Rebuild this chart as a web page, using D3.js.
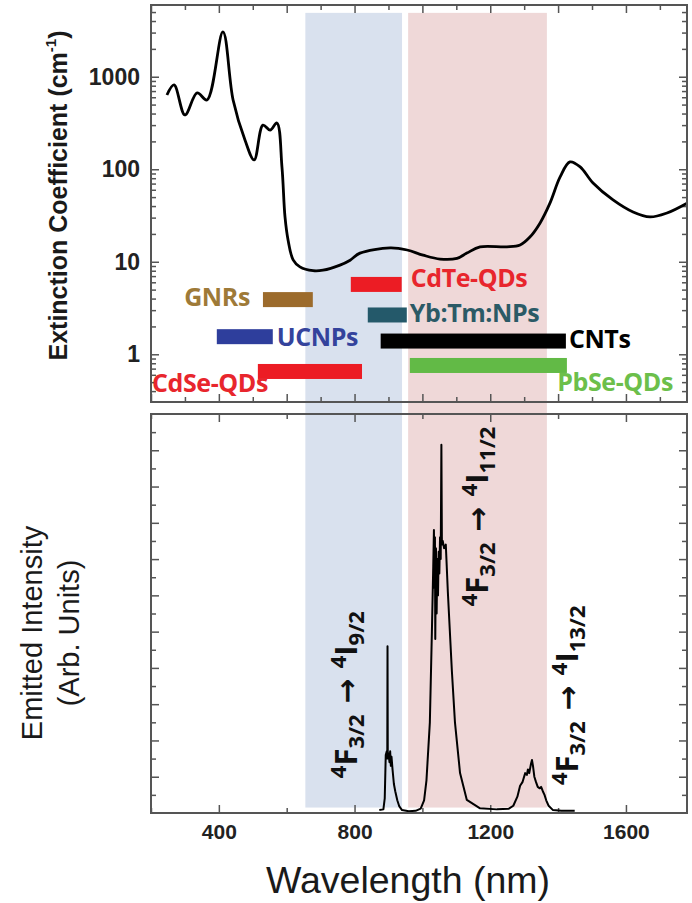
<!DOCTYPE html>
<html><head><meta charset="utf-8">
<script src="https://cdn.jsdelivr.net/npm/d3@7"></script>
<style>body{margin:0;background:#fff}svg{display:block}</style>
</head><body>
<svg id="chart" width="692" height="903"></svg>
<script>
// ---------------- DATA ----------------
// Extinction spectrum (top panel, log scale)
const absWavelength = [247,268,300,336,365,412,442,477,504,530,551,571,586,595,604,619,639,678,707,757,787,816,905,955,1002,1052,1102,1131,1170,1249,1288,1317,1347,1376,1406,1435,1465,1503,1562,1621,1671,1721,1780];
const absCoefficient = [635,815,386,668,561,3050,561,207,126,300,265,316,106,30.5,17.2,10.5,8.8,8.0,8.1,9.2,10.4,12.4,14.1,13.4,11.8,10.7,10.9,12.4,14.5,14.5,15.2,18.5,26.3,43,82.6,120,106,71,46.6,34.5,30.5,33.7,43];

// Emission spectrum (bottom panel, arbitrary units)
const emWavelength = [873,885,889,892,895,896.5,897.2,898,900,903,905,907,909,912,916,920,926,932,940,960,980,995,1005,1012,1022,1028,1032,1034,1036,1037,1038,1040,1042,1044,1046,1048,1050,1052,1054,1056,1057.5,1060,1064,1069,1075,1087,1096,1111,1131,1170,1220,1255,1268,1280,1288,1295,1303,1308,1311,1315,1320,1323,1326,1330,1335,1340,1346,1350,1355,1360,1365,1372,1385,1410,1449];
const emIntensity = [0.08,0.1,0.4,1.6,1.7,1.5,4.6,1.5,1.65,1.4,1.7,1.3,1.55,1.2,0.8,0.6,0.35,0.18,0.08,0.05,0.06,0.12,0.35,0.9,2.5,5.0,6.8,7.8,6.2,7.6,4.8,7.3,5.5,7.0,6.0,7.2,6.6,7.6,7.0,10.15,7.4,7.5,7.3,7.4,6.1,3.9,2.5,1.1,0.36,0.13,0.1,0.12,0.2,0.45,0.75,0.85,1.1,1.05,1.2,1.1,1.35,1.46,1.3,1.0,0.85,0.72,0.68,0.72,0.6,0.5,0.35,0.2,0.08,0.06,0.06];

// Biological windows (shaded)
const windowNames = ["NIR-I", "NIR-II"];
const windowStart = [655, 958];
const windowEnd = [940, 1367];

// Probe ranges (bars)
const probeNames = ["GNRs", "UCNPs", "CdSe-QDs", "CdTe-QDs", "Yb:Tm:NPs", "CNTs", "PbSe-QDs"];
const probeStart = [530, 394, 515, 789, 839, 877, 963];
const probeEnd   = [677, 559, 822, 939, 954, 1423, 1426];
const probeLevel = [3.9, 1.55, 0.652, 5.69, 2.66, 1.39, 0.757];

// Axis ticks
const xTickLabels = [400, 800, 1200, 1600];
const yTickLabels = [1, 10, 100, 1000];

// Nd3+ transitions (bottom panel annotations)
const transitionUpper = ["3/2", "3/2", "3/2"];
const transitionLower = ["9/2", "11/2", "13/2"];
const transitionWavelength = [807, 1193, 1459];
const transitionStartLevel = [0.96, 5.7, 0.77];

// ---------------- STYLE / LAYOUT ----------------
const W = 692, H = 903;
const frameColor = "#555";
const windowColor = ["#d9e1ee", "#efd8d8"];
const probeColor = ["#9c6b2c", "#2e3e9c", "#ec1c24", "#ec1c24", "#24596a", "#000000", "#62ba46"];
const labelColor = ["#9e7a38", "#34439c", "#e8262d", "#e8262d", "#2b5a66", "#000000", "#6cbf4b"];
// label placement relative to bar: side, dx, dy (pixels)
const labelPlace = [
  {anchor: "end",   ref: "start", dx: -13, dy: 6},
  {anchor: "start", ref: "end",   dx: 4,   dy: 9},
  {anchor: "start", ref: "frame", dx: 1,   dy: 21},
  {anchor: "start", ref: "end",   dx: 9,   dy: 3},
  {anchor: "start", ref: "end",   dx: 3,   dy: 7},
  {anchor: "start", ref: "end",   dx: 3,   dy: 7},
  {anchor: "end",   ref: "end",   dx: 106, dy: 26}
];

const x = d3.scaleLinear().domain([200, 1780]).range([151, 687]);
const yTop = d3.scaleLog().domain([0.305, 5960]).range([402, 5]);
const yBot = d3.scaleLinear().domain([0, 11]).range([813, 414]);

const svg = d3.select("#chart");
svg.append("rect").attr("width", W).attr("height", H).attr("fill", "#fff");

// shaded windows spanning both panels
svg.append("g").selectAll("rect")
  .data(windowNames)
  .join("rect")
  .attr("x", (d, i) => x(windowStart[i]))
  .attr("width", (d, i) => x(windowEnd[i]) - x(windowStart[i]))
  .attr("y", yTop(4900))
  .attr("height", yBot(0.15) - yTop(4900))
  .attr("fill", (d, i) => windowColor[i]);

// ---------- axes helper ----------
function styleAxis(g) {
  g.select(".domain").remove();
  g.selectAll(".tick line").attr("stroke", frameColor).attr("stroke-width", 1.5);
  return g;
}

// ---------- TOP PANEL ----------
const topG = svg.append("g");
const xMajTop = d3.range(200, 1781, 200), xMinTop = d3.range(300, 1781, 200);
[[402, d3.axisBottom], [5, d3.axisTop]].forEach(([yy, ax]) => {
  topG.append("g").attr("transform", `translate(0,${yy})`)
    .call(ax(x).tickValues(xMajTop).tickSize(-8).tickFormat("")).call(styleAxis);
  topG.append("g").attr("transform", `translate(0,${yy})`)
    .call(ax(x).tickValues(xMinTop).tickSize(-5).tickFormat("")).call(styleAxis);
});
const logMinor = [];
[0.1, 1, 10, 100, 1000].forEach(dec => { for (let k = 2; k <= 9; k++) { const v = dec * k; if (v > 0.305 && v < 5960) logMinor.push(v); } });
topG.append("g").attr("transform", `translate(${x.range()[0]},0)`)
  .call(d3.axisLeft(yTop).tickValues(yTickLabels).tickSize(-8).tickPadding(11).tickFormat(d3.format("d")))
  .call(styleAxis)
  .call(g => g.selectAll("text").attr("font-family", "'Liberation Sans', Arial, sans-serif")
    .attr("font-weight", "bold").attr("font-size", 23).attr("fill", "#222"));
topG.append("g").attr("transform", `translate(${x.range()[0]},0)`)
  .call(d3.axisLeft(yTop).tickValues(logMinor).tickSize(-5).tickFormat("")).call(styleAxis);
topG.append("g").attr("transform", `translate(${x.range()[1]},0)`)
  .call(d3.axisRight(yTop).tickValues(yTickLabels).tickSize(-8).tickFormat("")).call(styleAxis);
topG.append("g").attr("transform", `translate(${x.range()[1]},0)`)
  .call(d3.axisRight(yTop).tickValues(logMinor).tickSize(-5).tickFormat("")).call(styleAxis);

// probe bars
const barH = 15;
topG.append("g").selectAll("rect")
  .data(probeNames)
  .join("rect")
  .attr("x", (d, i) => x(probeStart[i]))
  .attr("width", (d, i) => x(probeEnd[i]) - x(probeStart[i]))
  .attr("y", (d, i) => yTop(probeLevel[i]) - barH / 2)
  .attr("height", barH)
  .attr("fill", (d, i) => probeColor[i]);

topG.append("g").selectAll("text")
  .data(probeNames)
  .join("text")
  .attr("x", (d, i) => {
    const p = labelPlace[i];
    const base = p.ref === "start" ? x(probeStart[i]) : p.ref === "end" ? x(probeEnd[i]) : x.range()[0];
    return base + p.dx;
  })
  .attr("y", (d, i) => yTop(probeLevel[i]) + labelPlace[i].dy)
  .attr("text-anchor", (d, i) => labelPlace[i].anchor)
  .attr("font-family", "'Open Sans', 'Noto Sans', sans-serif")
  .attr("font-weight", 700)
  .attr("font-size", 25)
  .attr("letter-spacing", -0.4)
  .attr("fill", (d, i) => labelColor[i])
  .text(d => d);

// extinction curve
const absLine = d3.line().x(d => x(d[0])).y(d => yTop(d[1])).curve(d3.curveCatmullRom.alpha(0.5));
topG.append("path")
  .datum(absWavelength.map((w, i) => [w, absCoefficient[i]]))
  .attr("d", absLine)
  .attr("fill", "none").attr("stroke", "#000").attr("stroke-width", 2.8).attr("stroke-linejoin", "round");

topG.append("rect")
  .attr("x", x.range()[0]).attr("y", yTop.range()[1])
  .attr("width", x.range()[1] - x.range()[0]).attr("height", yTop.range()[0] - yTop.range()[1])
  .attr("fill", "none").attr("stroke", frameColor).attr("stroke-width", 2);

// ---------- BOTTOM PANEL ----------
const botG = svg.append("g");
const xMajBot = xTickLabels, xMinBot = d3.range(200, 1781, 400);
botG.append("g").attr("transform", `translate(0,${yBot.range()[0]})`)
  .call(d3.axisBottom(x).tickValues(xMajBot).tickSize(-8).tickPadding(11).tickFormat(d3.format("d")))
  .call(styleAxis)
  .call(g => g.selectAll("text").attr("font-family", "'Liberation Sans', Arial, sans-serif")
    .attr("font-weight", "bold").attr("font-size", 21).attr("fill", "#222"));
botG.append("g").attr("transform", `translate(0,${yBot.range()[0]})`)
  .call(d3.axisBottom(x).tickValues(xMinBot).tickSize(-5).tickFormat("")).call(styleAxis);
botG.append("g").attr("transform", `translate(0,${yBot.range()[1]})`)
  .call(d3.axisTop(x).tickValues(xMajBot).tickSize(-8).tickFormat("")).call(styleAxis);
botG.append("g").attr("transform", `translate(0,${yBot.range()[1]})`)
  .call(d3.axisTop(x).tickValues(xMinBot).tickSize(-5).tickFormat("")).call(styleAxis);
const yMajBot = d3.range(1, 11, 1), yMinBot = d3.range(0.5, 11, 1);
[[x.range()[0], d3.axisLeft], [x.range()[1], d3.axisRight]].forEach(([xx, ax]) => {
  botG.append("g").attr("transform", `translate(${xx},0)`)
    .call(ax(yBot).tickValues(yMajBot).tickSize(-8).tickFormat("")).call(styleAxis);
  botG.append("g").attr("transform", `translate(${xx},0)`)
    .call(ax(yBot).tickValues(yMinBot).tickSize(-5).tickFormat("")).call(styleAxis);
});

const emLine = d3.line().x(d => x(d[0])).y(d => yBot(d[1]));
botG.append("path")
  .datum(emWavelength.map((w, i) => [w, emIntensity[i]]))
  .attr("d", emLine)
  .attr("fill", "none").attr("stroke", "#000").attr("stroke-width", 2).attr("stroke-linejoin", "round");

botG.append("rect")
  .attr("x", x.range()[0]).attr("y", yBot.range()[1])
  .attr("width", x.range()[1] - x.range()[0]).attr("height", yBot.range()[0] - yBot.range()[1])
  .attr("fill", "none").attr("stroke", frameColor).attr("stroke-width", 2);

// transition labels
const tFont = 31, tSmall = 22;
transitionLower.forEach((low, i) => {
  const px = x(transitionWavelength[i]), py = yBot(transitionStartLevel[i]);
  const t = botG.append("text")
    .attr("transform", `translate(${px},${py}) rotate(-90)`)
    .attr("font-family", "'Open Sans', 'DejaVu Sans', sans-serif")
    .attr("font-weight", 700).attr("font-size", tFont).attr("fill", "#111");
  t.append("tspan").attr("font-size", tSmall).attr("baseline-shift", 11).text("4");
  t.append("tspan").text("F");
  t.append("tspan").attr("font-size", tSmall).attr("baseline-shift", -7).text(transitionUpper[i]);
  t.append("tspan").attr("font-family", "'DejaVu Sans', sans-serif").attr("font-weight", "bold")
    .attr("font-size", 30).text(" \u2192 ");
  t.append("tspan").attr("font-size", tSmall).attr("baseline-shift", 11).text("4");
  t.append("tspan").text("I");
  t.append("tspan").attr("font-size", tSmall).attr("baseline-shift", -7).text(low);
});

// ---------- AXIS TITLES ----------
const yt = svg.append("text")
  .attr("transform", `translate(67,${(yTop.range()[0] + yTop.range()[1]) / 2 - 8}) rotate(-90)`)
  .attr("text-anchor", "middle")
  .attr("font-family", "'Liberation Sans', Arial, sans-serif")
  .attr("font-weight", "bold").attr("font-size", 25).attr("fill", "#1a1a1a");
yt.append("tspan").text("Extinction Coefficient (cm");
yt.append("tspan").attr("font-size", 15).attr("baseline-shift", 11).text("-1");
yt.append("tspan").text(")");

const yb = svg.append("text")
  .attr("transform", `translate(0,633) rotate(-90)`)
  .attr("text-anchor", "middle")
  .attr("font-family", "'Liberation Sans', Arial, sans-serif")
  .attr("font-size", 29).attr("fill", "#1a1a1a");
yb.append("tspan").attr("x", 0).attr("y", 42).text("Emitted Intensity");
yb.append("tspan").attr("x", 0).attr("y", 79).text("(Arb. Units)");

svg.append("text")
  .attr("x", 408).attr("y", 893)
  .attr("text-anchor", "middle")
  .attr("font-family", "'Liberation Sans', Arial, sans-serif")
  .attr("font-size", 37.5).attr("fill", "#1a1a1a")
  .text("Wavelength (nm)");
</script>
</body></html>
